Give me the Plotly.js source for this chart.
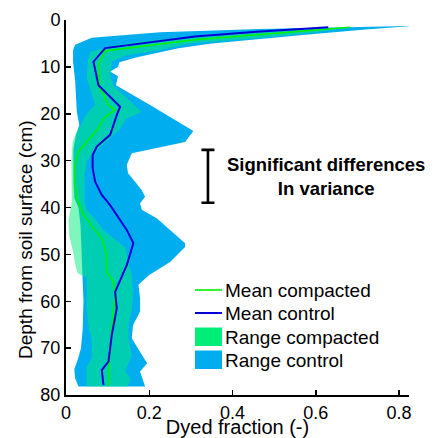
<!DOCTYPE html>
<html>
<head>
<meta charset="utf-8">
<script src="https://cdn.plot.ly/plotly-3.0.1.min.js"></script>
<style>
html,body{margin:0;padding:0;background:#fff;}
#chart{width:441px;height:438px;}
</style>
</head>
<body>
<div id="chart"></div>
<script>
// ---- data (depth in cm, dyed fraction) ----
var ctrlMaxDepth = [1.3, 2, 3, 4, 5, 6, 7, 8, 9, 10, 11, 12, 13.9, 16, 18, 20.3, 21.7, 23.7, 26, 28.4, 30.9, 32.7, 34.5, 36.3, 37.7, 39.1, 40.5, 42.3, 44.8, 47.6, 48.4, 51.6, 54.4, 56.5, 59.4, 62.2, 65.1, 67.9, 70.8, 73.2, 75, 78.2];
var ctrlMaxX     = [0.826, 0.72, 0.595, 0.465, 0.35, 0.27, 0.215, 0.168, 0.128, 0.125, 0.106, 0.125, 0.12, 0.162, 0.2, 0.243, 0.269, 0.306, 0.286, 0.158, 0.146, 0.149, 0.166, 0.182, 0.19, 0.178, 0.182, 0.218, 0.25, 0.286, 0.286, 0.25, 0.2, 0.174, 0.178, 0.178, 0.161, 0.158, 0.178, 0.195, 0.178, 0.19];
var ctrlMinDepth = [1.3, 1.9, 2.6, 3.8, 5.3, 6.4, 9, 13, 19.6, 22.4, 24.5, 27.4, 34.5, 38, 40, 44, 48, 54, 60, 66, 70, 72.5, 74.5, 76.5, 78.2];
var ctrlMinX     = [0.826, 0.466, 0.226, 0.062, 0.022, 0.017, 0.017, 0.022, 0.026, 0.032, 0.024, 0.018, 0.018, 0.02, 0.03, 0.035, 0.038, 0.04, 0.042, 0.04, 0.036, 0.028, 0.02, 0.022, 0.03];

var compMaxDepth = [1.5, 2.6, 3.9, 5.0, 6.4, 7.5, 8.9, 11.7, 13.9, 19.6, 21, 23.1, 25, 26.5, 28, 30, 33, 39, 40.5, 42.5, 44.8, 47, 48.5, 51.5, 54.4, 58.7, 62.2, 65, 68, 71.5, 75, 76.5, 78.2];
var compMaxX     = [0.69, 0.6, 0.458, 0.298, 0.226, 0.146, 0.11, 0.106, 0.113, 0.182, 0.146, 0.13, 0.108, 0.09, 0.07, 0.05, 0.045, 0.045, 0.05, 0.07, 0.09, 0.12, 0.142, 0.15, 0.158, 0.161, 0.158, 0.15, 0.15, 0.158, 0.142, 0.155, 0.149];
var compMinDepth = [1.5, 2.5, 3.5, 4.5, 5.5, 6.8, 9, 12.4, 16, 18.1, 20, 22.4, 24, 26, 30, 35, 39, 42.7, 46, 49.8, 52, 54, 55, 62, 66, 68, 72, 74, 78.2];
var compMinX     = [0.69, 0.48, 0.3, 0.19, 0.11, 0.058, 0.052, 0.05, 0.062, 0.07, 0.05, 0.036, 0.025, 0.016, 0.013, 0.013, 0.014, 0.006, 0.008, 0.018, 0.022, 0.028, 0.05, 0.05, 0.055, 0.062, 0.062, 0.05, 0.05];

var meanCompDepth = [1.56, 3.2, 4.2, 6.6, 9.6, 14.6, 18.1, 19.2, 21, 23.1, 26, 28.1, 30.9, 34.5, 38, 41.6, 44.4, 46.6, 49.4, 53.7, 55.8, 58.7, 65.8, 72.9, 77.9];
var meanCompX     = [0.682, 0.458, 0.31, 0.094, 0.078, 0.082, 0.102, 0.118, 0.09, 0.078, 0.05, 0.03, 0.022, 0.022, 0.026, 0.042, 0.066, 0.086, 0.096, 0.098, 0.114, 0.118, 0.11, 0.104, 0.102];
var meanCtrlDepth = [1.56, 2.5, 3.5, 6.0, 8.9, 13.9, 18.5, 20.3, 24.5, 27, 28.8, 31.6, 34.5, 37.3, 39.5, 42.3, 44.8, 47.6, 50.1, 52.3, 58, 61.5, 67.2, 72.9, 74.7, 77.9];
var meanCtrlX     = [0.63, 0.458, 0.31, 0.094, 0.066, 0.078, 0.13, 0.122, 0.106, 0.074, 0.064, 0.064, 0.07, 0.086, 0.106, 0.126, 0.146, 0.162, 0.154, 0.146, 0.118, 0.122, 0.11, 0.102, 0.086, 0.09];

// significant-difference interval (depth, cm) and its x position
var sigDepth = [27.7, 39.0];
var sigX = 0.341;

var xTicks = [0, 0.2, 0.4, 0.6, 0.8];
var xTickText = ['0', '0.2', '0.4', '0.6', '0.8'];
var yTicks = [0, 10, 20, 30, 40, 50, 60, 70, 80];

var seriesNames = ['Mean compacted', 'Mean control', 'Range compacted', 'Range control'];

// ---- colours ----
var cBlueFill = 'rgb(0,174,239)';
var cGreenFillA = 'rgba(0,238,120,0.5)';
var cGreenFill = 'rgb(0,238,120)';
var cGreenLine = 'rgb(0,240,0)';
var cBlueLine = 'rgb(0,0,215)';

function polygon(maxX, maxD, minX, minD) {
  var xs = maxX.slice(), ys = maxD.slice();
  for (var i = minX.length - 1; i >= 0; i--) { xs.push(minX[i]); ys.push(minD[i]); }
  return {x: xs, y: ys};
}
var pc = polygon(ctrlMaxX, ctrlMaxDepth, ctrlMinX, ctrlMinDepth);
var pg = polygon(compMaxX, compMaxDepth, compMinX, compMinDepth);

var traces = [
  {x: pc.x, y: pc.y, type: 'scatter', mode: 'lines', fill: 'toself', fillcolor: cBlueFill,
   line: {width: 0, color: cBlueFill}, name: seriesNames[3], showlegend: false, hoverinfo: 'skip'},
  {x: pg.x, y: pg.y, type: 'scatter', mode: 'lines', fill: 'toself', fillcolor: cGreenFillA,
   line: {width: 0, color: cGreenFillA}, name: seriesNames[2], showlegend: false, hoverinfo: 'skip'},
  {x: meanCompX, y: meanCompDepth, type: 'scatter', mode: 'lines', line: {color: cGreenLine, width: 1.6},
   name: seriesNames[0], showlegend: false},
  {x: meanCtrlX, y: meanCtrlDepth, type: 'scatter', mode: 'lines', line: {color: cBlueLine, width: 2},
   name: seriesNames[1], showlegend: false},
  {x: [sigX], y: [(sigDepth[0] + sigDepth[1]) / 2], type: 'scatter', mode: 'markers',
   marker: {size: 1, color: 'rgba(0,0,0,0)'},
   error_y: {type: 'data', symmetric: true, array: [(sigDepth[1] - sigDepth[0]) / 2], color: '#000', thickness: 2.6, width: 6.5},
   showlegend: false, hoverinfo: 'skip'}
];

// plot area in pixels
var L = 66, R = 32, T = 20, B = 43, W = 441, H = 438;
var PW = W - L - R, PH = H - T - B;
function px(x) { return (x - L) / PW; }
function py(y) { return 1 - (y - T) / PH; }

var font = 'Liberation Sans, Arial, sans-serif';
var shapes = [], annotations = [];
// custom legend
var legY = [290, 313, 337, 360];
shapes.push({type: 'line', xref: 'paper', yref: 'paper', x0: px(195), x1: px(222), y0: py(legY[0]), y1: py(legY[0]), line: {color: cGreenLine, width: 1.6}});
shapes.push({type: 'line', xref: 'paper', yref: 'paper', x0: px(195), x1: px(222), y0: py(legY[1]), y1: py(legY[1]), line: {color: cBlueLine, width: 2}});
shapes.push({type: 'rect', xref: 'paper', yref: 'paper', x0: px(195), x1: px(222), y0: py(legY[2] - 9.5), y1: py(legY[2] + 9), line: {width: 0}, fillcolor: cGreenFill});
shapes.push({type: 'rect', xref: 'paper', yref: 'paper', x0: px(195), x1: px(222), y0: py(legY[3] - 9.5), y1: py(legY[3] + 9), line: {width: 0}, fillcolor: cBlueFill});
for (var i = 0; i < 4; i++) {
  annotations.push({xref: 'paper', yref: 'paper', x: px(223), y: py(legY[i]), xanchor: 'left', yanchor: 'middle',
    text: seriesNames[i], showarrow: false, font: {family: font, size: 19, color: '#000'}});
}
annotations.push({xref: 'paper', yref: 'paper', x: px(326), y: py(176.5), xanchor: 'center', yanchor: 'middle',
  text: '<b>Significant differences</b><br><b>In variance</b>', showarrow: false,
  font: {family: font, size: 18.5, color: '#000'}});
// y-axis title placed as in the reference (below the axis centre)
annotations.push({xref: 'paper', yref: 'paper', x: px(25), y: py(240), xanchor: 'center', yanchor: 'middle',
  textangle: -90, text: 'Depth from soil surface (cm)', showarrow: false,
  font: {family: font, size: 19, color: '#000'}});

var layout = {
  width: W, height: H,
  margin: {l: L, r: R, t: T, b: B, pad: 0},
  paper_bgcolor: '#fff', plot_bgcolor: '#fff',
  showlegend: false,
  font: {family: font, color: '#000'},
  xaxis: {
    range: [0, 0.824], tickvals: xTicks, ticktext: xTickText,
    showline: true, linecolor: '#000', linewidth: 2, mirror: false,
    ticks: 'inside', ticklen: 5, tickwidth: 1.5, tickcolor: '#000',
    showgrid: false, zeroline: false,
    tickfont: {family: font, size: 18, color: '#000'},
    title: {text: 'Dyed fraction (-)', font: {family: font, size: 20, color: '#000'}, standoff: 4},
    automargin: false, fixedrange: true
  },
  yaxis: {
    range: [80, 0], tickvals: yTicks,
    showline: true, linecolor: '#000', linewidth: 2, mirror: false,
    ticks: 'inside', ticklen: 5, tickwidth: 1.5, tickcolor: '#000',
    showgrid: false, zeroline: false,
    tickfont: {family: font, size: 18, color: '#000'},
    automargin: false, fixedrange: true
  },
  shapes: shapes,
  annotations: annotations
};

Plotly.newPlot('chart', traces, layout, {staticPlot: true, displayModeBar: false});
</script>
</body>
</html>
